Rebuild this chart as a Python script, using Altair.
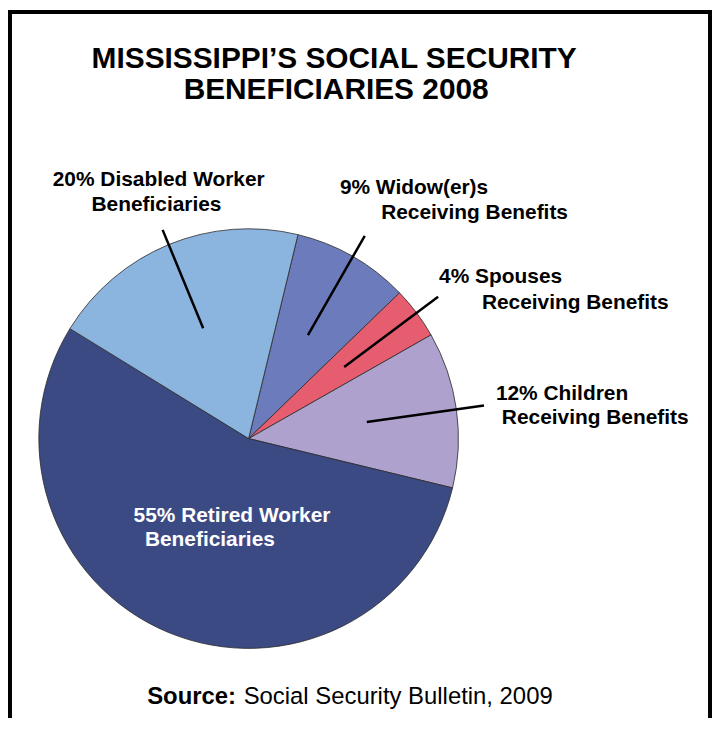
import math
import altair as alt
import pandas as pd

# ---- data ----
keys = ["widow", "spouses", "children", "retired", "disabled"]
shares = [9, 4, 12, 55, 20]
names = [
    ["Widow(er)s", "Receiving Benefits"],
    ["Spouses", "Receiving Benefits"],
    ["Children", "Receiving Benefits"],
    ["Retired Worker", "Beneficiaries"],
    ["Disabled Worker", "Beneficiaries"],
]
colors = ["#6C7BBB", "#E65D6F", "#AFA1CE", "#3C4A84", "#8BB5DF"]
title_lines = ["MISSISSIPPI\u2019S SOCIAL SECURITY", "BENEFICIARIES 2008"]
source_bold = "Source:"
source_rest = "Social Security Bulletin, 2009"

# ---- layout (pixels) ----
W, H = 708, 712
CX, CY, R = 242, 431, 211
START_DEG = 13.6
leader_inner = 120
leader_outer = {"widow": 235, "spouses": 238, "children": 239, "disabled": 227}
anchor_radius_inside = 95  # for the retired label (no leader)
label_offsets = {
    "widow": [(-25, -42), (16.5, -17)],
    "spouses": [(1, -14), (44, 12)],
    "children": [(12, -6), (18, 19)],
    "disabled": [(-110.5, -44), (-71.5, -19)],
    "retired": [(-79.2, -3.4), (-67.8, 20)],
}

t0 = math.radians(START_DEG)
pie_df = pd.DataFrame({"key": keys, "share": shares, "ord": list(range(len(keys)))})

total = sum(shares)
mids = {}
cum = 0
for k, s in zip(keys, shares):
    mids[k] = t0 + 2 * math.pi * (cum + s / 2) / total
    cum += s

lead_rows = []
for k in keys:
    if k in leader_outer:
        a = mids[k]
        r1, r2 = leader_inner / R, leader_outer[k] / R
        lead_rows.append({"x": r1 * math.sin(a), "y": r1 * math.cos(a),
                          "x2": r2 * math.sin(a), "y2": r2 * math.cos(a)})
lead_df = pd.DataFrame(lead_rows)

lab_rows = []
for k, s, nm in zip(keys, shares, names):
    a = mids[k]
    r = leader_outer.get(k, anchor_radius_inside)
    ax, ay = r * math.sin(a), r * math.cos(a)
    lines = [f"{s}% {nm[0]}", nm[1]]
    for txt, (dx, dy) in zip(lines, label_offsets[k]):
        lab_rows.append({"x": (ax + dx) / R, "y": (ay - dy) / R, "text": txt,
                         "fill": "white" if k == "retired" else "black"})
lab_df = pd.DataFrame(lab_rows)

xs = alt.Scale(domain=[-1, 1], range=[CX - R, CX + R])
ys = alt.Scale(domain=[-1, 1], range=[CY + R, CY - R])

pie = alt.Chart(pie_df).mark_arc(radius=R, stroke="#2a2a2a", strokeWidth=0.8).encode(
    theta=alt.Theta("share:Q", stack=True, scale=alt.Scale(range=[t0, t0 + 2 * math.pi])),
    color=alt.Color("key:N", scale=alt.Scale(domain=keys, range=colors), legend=None),
    order=alt.Order("ord:Q"),
    x=alt.value(CX),
    y=alt.value(CY),
)

leaders = alt.Chart(lead_df).mark_rule(color="black", strokeWidth=2.5).encode(
    x=alt.X("x:Q", scale=xs, axis=None),
    y=alt.Y("y:Q", scale=ys, axis=None),
    x2="x2:Q",
    y2="y2:Q",
)

labels = alt.Chart(lab_df).mark_text(
    align="left", baseline="alphabetic", font="Liberation Sans",
    fontSize=21, fontWeight="bold"
).encode(
    x=alt.X("x:Q", scale=xs, axis=None),
    y=alt.Y("y:Q", scale=ys, axis=None),
    text="text:N",
    color=alt.Color("fill:N", scale=None),
)

one = pd.DataFrame({"a": [0]})
title1 = alt.Chart(one).mark_text(align="center", baseline="alphabetic", font="Liberation Sans",
                                  fontSize=30, fontWeight="bold", color="black").encode(
    x=alt.value(328), y=alt.value(58), text=alt.value(title_lines[0]))
title2 = alt.Chart(one).mark_text(align="center", baseline="alphabetic", font="Liberation Sans",
                                  fontSize=30, fontWeight="bold", color="black").encode(
    x=alt.value(330), y=alt.value(89), text=alt.value(title_lines[1]))
src1 = alt.Chart(one).mark_text(align="left", baseline="alphabetic", font="Liberation Sans",
                                fontSize=24, fontWeight="bold", color="black").encode(
    x=alt.value(140), y=alt.value(698), text=alt.value(source_bold))
src2 = alt.Chart(one).mark_text(align="left", baseline="alphabetic", font="Liberation Sans",
                                fontSize=24, color="black").encode(
    x=alt.value(237), y=alt.value(698), text=alt.value(source_rest))

frame_l = alt.Chart(one).mark_rule(color="black", strokeWidth=4).encode(
    x=alt.value(2), y=alt.value(0), y2=alt.value(H))
frame_r = alt.Chart(one).mark_rule(color="black", strokeWidth=4).encode(
    x=alt.value(W - 2), y=alt.value(0), y2=alt.value(H))
frame_t = alt.Chart(one).mark_rule(color="black", strokeWidth=4).encode(
    y=alt.value(2), x=alt.value(0), x2=alt.value(W))

chart = alt.layer(pie, leaders, labels, title1, title2, src1, src2, frame_l, frame_r, frame_t).properties(
    width=W, height=H, padding=0, autosize=alt.AutoSizeParams(type="none"), background="white"
).configure_view(stroke=None)

chart.save("out.html", embed_options={"renderer": "svg", "actions": False})
